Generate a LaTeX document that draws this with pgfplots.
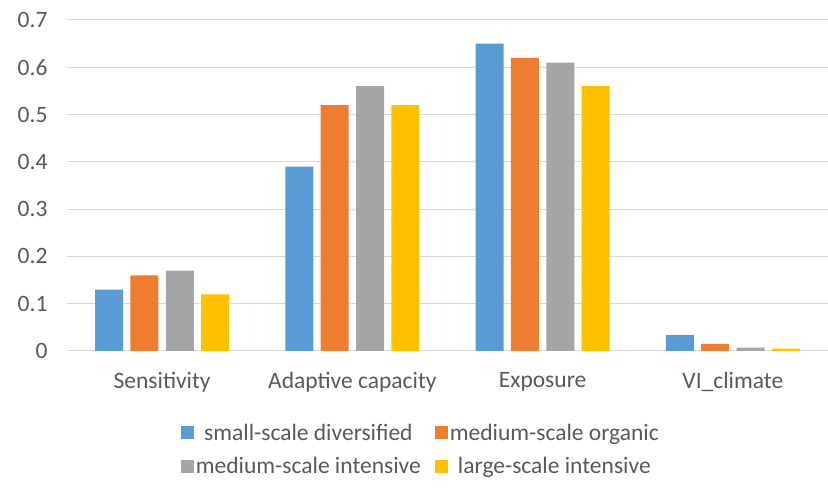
\documentclass[border=0pt]{standalone}
\usepackage{pgfplots}
\pgfplotsset{compat=1.18}
\usepackage{fontspec}
\setmainfont{Carlito}
\definecolor{cblue}{HTML}{5B9BD5}
\definecolor{corange}{HTML}{ED7D31}
\definecolor{cgray}{HTML}{A5A5A5}
\definecolor{cyellow}{HTML}{FFC000}
\definecolor{gridc}{HTML}{D9D9D9}
\definecolor{txt}{HTML}{595959}
\begin{document}
\begin{tikzpicture}[x=1pt,y=1pt]
\useasboundingbox (0,0) rectangle (828,494);
\begin{axis}[
  at={(67pt,143pt)}, anchor=south west,
  scale only axis, width=761pt, height=331pt,
  ybar=7.3pt, bar width=28pt,
  xmin=-0.5, xmax=3.5, ymin=0, ymax=0.7,
  xtick=data, xticklabels={Sensitivity,Adaptive capacity,Exposure,VI\_climate},
  ytick={0,0.1,...,0.7},
  yticklabel style={/pgf/number format/fixed,/pgf/number format/precision=1},
  /pgf/number format/assume math mode=true,
  ymajorgrids, xmajorgrids=false, major grid style={draw=gridc, line width=1pt},
  axis line style={draw=none},
  axis x line*=bottom,
  x axis line style={draw=gridc, line width=1pt},
  major tick length=0pt,
  tick label style={font=\fontsize{23.5}{28}\selectfont, text=txt},
  yticklabel style={xshift=-16pt},
  xticklabel style={yshift=-18pt},
  legend columns=2,
  legend style={at={(0.465,-0.2976)}, anchor=center, draw=none, fill=none,
    font=\fontsize{23.5}{28}\selectfont, text=txt,
    /tikz/every even column/.append style={column sep=12pt},
    row sep=12pt},
  legend image code/.code={\fill[#1] (2pt,-6.5pt) rectangle (15pt,6.5pt);},
  every axis plot/.append style={draw=none},
]
\addplot[fill=cblue] coordinates {(0,0.13) (1,0.39) (2,0.65) (3,0.034)};
\addplot[fill=corange] coordinates {(0,0.16) (1,0.52) (2,0.62) (3,0.015)};
\addplot[fill=cgray] coordinates {(0,0.17) (1,0.56) (2,0.61) (3,0.007)};
\addplot[fill=cyellow] coordinates {(0,0.12) (1,0.52) (2,0.56) (3,0.005)};
\legend{small-scale diversified, medium-scale organic, medium-scale intensive, large-scale intensive}
\end{axis}
\end{tikzpicture}
\end{document}
